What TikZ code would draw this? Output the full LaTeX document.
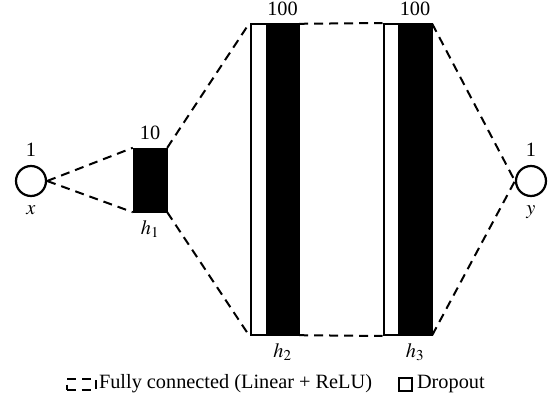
\documentclass[tikz,border=0pt]{standalone}
\usepackage{mathptmx}
\usepackage{fontspec}
\setmainfont{Liberation Serif}
\usetikzlibrary{positioning}

\tikzset{
  unit/.style={draw, circle, line width=2.2pt, minimum size=30pt, inner sep=0pt},
  dense/.style={fill=black, draw=black, inner sep=0pt},
  drop/.style={draw, fill=white, line width=2pt, inner sep=0pt},
  fc/.style={line width=2pt, dash pattern=on 9pt off 6pt},
  up/.style={yshift=5pt},
  down/.style={yshift=-5pt}
}

\begin{document}
\begin{tikzpicture}[x=1pt, y=-1pt, font=\fontsize{20.3}{24}\selectfont]
\useasboundingbox (0,0) rectangle (552,404);

% input and output
\node[unit, label={[up]above:1}, label={[down]below:$x$}] at (31,181) (x) {};
\node[unit, label={[up]above:1}, label={[down]below:$y$}] at (531,181) (y) {};

% hidden layers
\node[dense, minimum width=34pt, minimum height=64pt, label={[up]above:10}, label={[down]below:$h_1$}] at (150,180) (h1) {};

\node[drop, minimum width=48pt, minimum height=311pt] at (274.5,179.5) (d2) {};
\node[dense, minimum width=33pt, minimum height=311pt, label={[up]above:100}, label={[down]below:$h_2$}] at (282.5,179.5) (h2) {};
\node[drop, minimum width=48pt, minimum height=311pt] at (407.5,179.5) (d3) {};
\node[dense, minimum width=34pt, minimum height=311pt, label={[up]above:100}, label={[down]below:$h_3$}] at (415,179.5) (h3) {};

% connections
\path[fc] (x.east) edge (h1.north west);
\path[fc] (x.east) edge (h1.south west);
\path[fc] (h1.north east) edge (d2.north west);
\path[fc] (h1.south east) edge (d2.south west);
\path[fc] (h2.north east) edge (d3.north west);
\path[fc] (h2.south east) edge (d3.south west);
\path[fc] (h3.north east) edge (y.west);
\path[fc] (h3.south east) edge (y.west);

% legend
\node[draw, fc, minimum width=29pt, minimum height=11pt, inner sep=0pt] at (81,384) (lfc) {};
\node[right=-1pt of lfc] (tfc) {Fully connected (Linear + ReLU)};
\node[drop, minimum size=13pt] at (405,384) (ldrop) {};
\node[right=1pt of ldrop] (tdrop) {Dropout};
\end{tikzpicture}
\end{document}
